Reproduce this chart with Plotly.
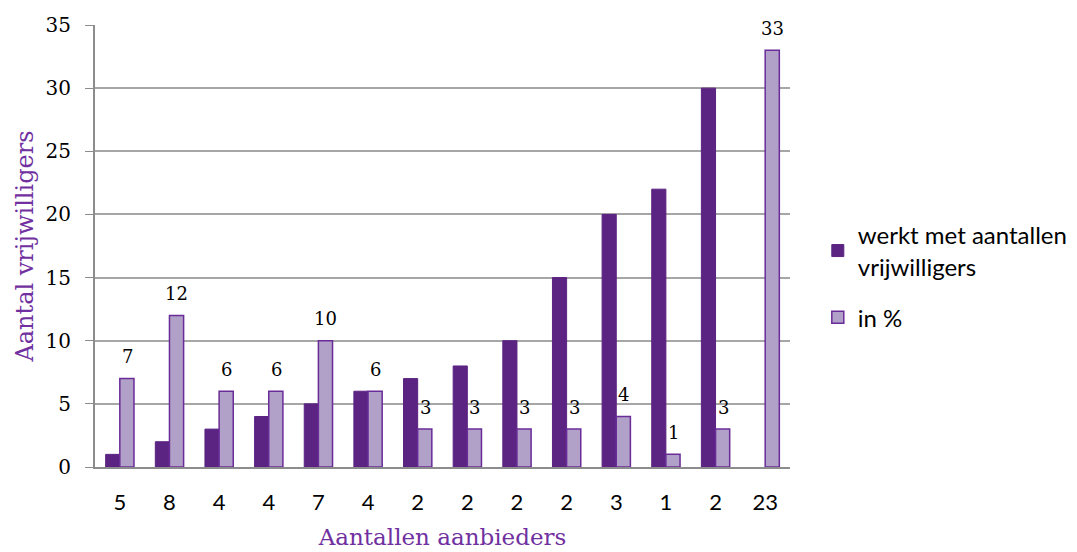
import plotly.graph_objects as go

aanbieders = ["5", "8", "4", "4", "7", "4", "2", "2", "2", "2", "3", "1", "2", "23"]
werkt_met = [1, 2, 3, 4, 5, 6, 7, 8, 10, 15, 20, 22, 30, None]
in_procent = [7, 12, 6, 6, 10, 6, 3, 3, 3, 3, 4, 1, 3, 33]

x = list(range(len(aanbieders)))
dark = "#5B2382"
light = "#B1A0C7"
edge = "#6A2C99"
title_purple = "#7030A0"

fig = go.Figure()
fig.add_trace(go.Bar(
    x=x, y=werkt_met, name="werkt met aantallen<br>vrijwilligers",
    legendgroup="a",
    marker=dict(color=dark, line=dict(color=dark, width=1)),
))
fig.add_trace(go.Bar(
    x=x, y=in_procent, name="in %",
    legendgroup="b",
    marker=dict(color=light, line=dict(color=edge, width=1.5)),
))

for xi, v in zip(x, in_procent):
    fig.add_annotation(
        x=xi, y=v, text=str(v), showarrow=False, xshift=7.5, yshift=22,
        font=dict(family="DejaVu Serif", size=18, color="#000000"),
    )

fig.update_layout(
    width=1077, height=552,
    barmode="group", bargap=0.43, bargroupgap=0.0,
    plot_bgcolor="white", paper_bgcolor="white",
    margin=dict(l=87, r=295, t=17, b=93, autoexpand=False),
    legend=dict(
        x=1.04, y=0.575, xanchor="left", yanchor="top",
        font=dict(family="Lato", size=24, color="#000000"),
        tracegroupgap=17, itemwidth=30,
    ),
    showlegend=True,
)
fig.update_xaxes(
    tickmode="array", tickvals=x, ticktext=aanbieders,
    range=[-0.5, len(x) - 0.5], automargin=False,
    showline=True, linecolor="#8c8c8c", linewidth=2,
    ticks="", ticklabelstandoff=15,
    tickfont=dict(family="Lato", size=22, color="#000000"),
    title=dict(text="Aantallen aanbieders", standoff=14,
               font=dict(family="DejaVu Serif", size=23, color=title_purple)),
    showgrid=False, zeroline=False,
)
fig.update_yaxes(
    range=[0, 35], dtick=5, automargin=False,
    showline=True, linecolor="#8c8c8c", linewidth=2,
    ticks="outside", ticklen=8, tickcolor="#8c8c8c", ticklabelstandoff=10,
    tickfont=dict(family="DejaVu Serif", size=20, color="#000000"),
    showgrid=True, gridcolor="#a6a6a6", gridwidth=1.5,
    zeroline=False,
    title=dict(text="Aantal vrijwilligers", standoff=5,
               font=dict(family="DejaVu Serif", size=24, color=title_purple)),
)

fig.write_html("out.html")
